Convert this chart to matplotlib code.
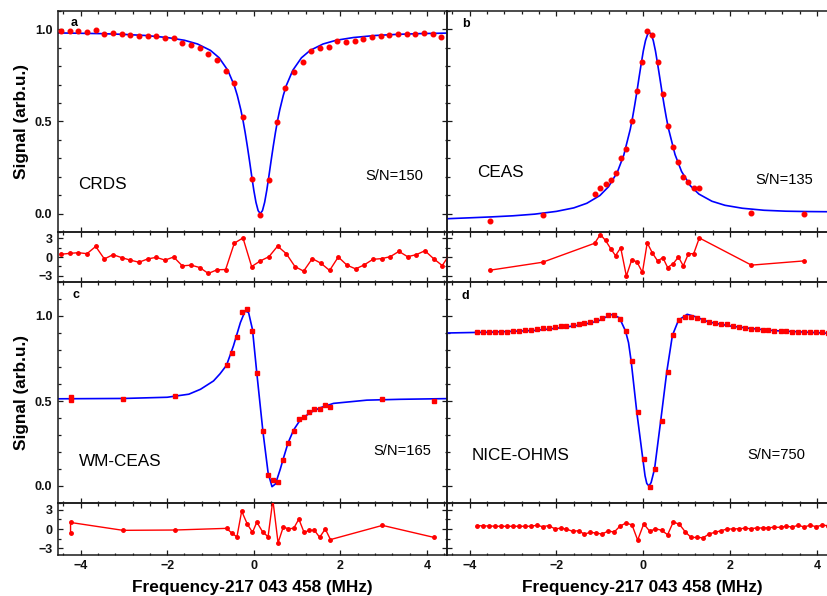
import matplotlib
matplotlib.use('Agg')
import matplotlib.pyplot as plt
from matplotlib.ticker import MultipleLocator

plt.rcParams['font.family'] = ['Liberation Sans', 'DejaVu Sans']
plt.rcParams['font.weight'] = 'bold'
plt.rcParams['axes.labelweight'] = 'bold'

# ---------------- Panel a: CRDS ----------------
a_x = [-4.44, -4.25, -4.05, -3.85, -3.65, -3.45, -3.25, -3.05, -2.85, -2.65, -2.45, -2.25, -2.05,
       -1.85, -1.65, -1.45, -1.25, -1.05, -0.85, -0.65, -0.45, -0.25, -0.05, 0.15, 0.35, 0.53, 0.73,
       0.93, 1.13, 1.33, 1.53, 1.73, 1.93, 2.13, 2.33, 2.53, 2.73, 2.93, 3.13, 3.33, 3.53, 3.73, 3.93,
       4.13, 4.33]
a_y = [0.99, 0.99, 0.99, 0.987, 0.998, 0.977, 0.982, 0.973, 0.967, 0.962, 0.966, 0.964, 0.953,
       0.953, 0.928, 0.918, 0.898, 0.864, 0.832, 0.772, 0.708, 0.527, 0.188, -0.009, 0.185, 0.498, 0.68,
       0.77, 0.824, 0.882, 0.898, 0.907, 0.938, 0.933, 0.937, 0.947, 0.958, 0.962, 0.969, 0.977, 0.973,
       0.974, 0.982, 0.973, 0.96]
a_fit_x = [-4.52, -4.0, -3.5, -3.0, -2.5, -2.0, -1.6, -1.3, -1.0, -0.8, -0.6, -0.45, -0.38, -0.3,
           -0.25, -0.2, -0.15, -0.1, -0.05, 0.0, 0.05, 0.1, 0.15, 0.2, 0.25, 0.3, 0.35, 0.4, 0.45, 0.5,
           0.55, 0.6, 0.68, 0.75, 0.9, 1.1, 1.3, 1.6, 1.9, 2.3, 2.8, 3.3, 3.8, 4.46]
a_fit_y = [0.981, 0.979, 0.977, 0.973, 0.967, 0.956, 0.941, 0.921, 0.886, 0.846, 0.778, 0.695, 0.641,
           0.564, 0.507, 0.441, 0.367, 0.288, 0.206, 0.127, 0.061, 0.016, 0.0, 0.016, 0.061, 0.127,
           0.206, 0.288, 0.367, 0.441, 0.507, 0.564, 0.641, 0.695, 0.778, 0.846, 0.886, 0.921, 0.941,
           0.956, 0.967, 0.973, 0.977, 0.980]
ar_x = [-4.46, -4.25, -4.05, -3.85, -3.65, -3.45, -3.25, -3.05, -2.85, -2.65, -2.45, -2.25, -2.05,
        -1.85, -1.65, -1.45, -1.25, -1.05, -0.85, -0.65, -0.45, -0.25, -0.05, 0.15, 0.35, 0.55, 0.75,
        0.95, 1.15, 1.35, 1.55, 1.75, 1.95, 2.15, 2.35, 2.55, 2.75, 2.95, 3.15, 3.35, 3.55, 3.75, 3.95,
        4.15, 4.35, 4.5]
ar_y = [0.43, 0.58, 0.69, 0.53, 1.69, -0.31, 0.37, -0.1, -0.5, -0.84, -0.31, -0.05, -0.5, 0.0,
        -1.42, -1.3, -1.68, -2.63, -2.05, -2.0, 2.21, 3.05, -1.53, -0.63, 0.05, 1.74, 0.53, -1.53,
        -2.26, -0.26, -1.0, -2.15, 0.0, -1.3, -1.9, -1.26, -0.37, -0.26, 0.05, 0.9, 0.05, 0.37, 1.0,
        -0.26, -1.37, 0.2]

# ---------------- Panel b: CEAS ----------------
b_x = [-3.52, -2.32, -1.12, -0.99, -0.87, -0.75, -0.64, -0.52, -0.39, -0.27, -0.15, -0.02, 0.09,
       0.21, 0.33, 0.45, 0.56, 0.69, 0.81, 0.92, 1.04, 1.16, 1.29, 2.49, 3.69]
b_y = [-0.038, -0.009, 0.107, 0.14, 0.158, 0.183, 0.219, 0.303, 0.349, 0.502, 0.665, 0.822, 0.991,
       0.969, 0.822, 0.65, 0.477, 0.36, 0.281, 0.201, 0.174, 0.14, 0.138, 0.005, -0.004]
br_y = [-2.1, -0.84, 2.2, 3.6, 2.65, 1.33, 0.22, 1.48, -3.05, -0.52, -0.73, -2.47, 2.27, 0.63,
        -0.63, -0.1, -1.68, -1.05, 0.0, -1.42, 0.53, 0.53, 3.05, -1.3, -0.63]
b_fit_x = [-4.53, -4.0, -3.5, -3.0, -2.5, -2.0, -1.6, -1.3, -1.0, -0.8, -0.6, -0.45, -0.3, -0.25,
           -0.2, -0.15, -0.1, -0.05, 0.0, 0.05, 0.1, 0.14, 0.18, 0.23, 0.28, 0.33, 0.38, 0.43, 0.48,
           0.53, 0.58, 0.73, 0.88, 1.08, 1.28, 1.58, 1.88, 2.28, 2.78, 3.28, 3.78, 4.28]
b_fit_y = [-0.028, -0.023, -0.018, -0.012, -0.003, 0.012, 0.031, 0.056, 0.098, 0.146, 0.224, 0.317,
           0.458, 0.518, 0.586, 0.658, 0.736, 0.811, 0.883, 0.939, 0.974, 0.983, 0.975, 0.939, 0.883,
           0.812, 0.737, 0.661, 0.588, 0.521, 0.461, 0.321, 0.229, 0.152, 0.106, 0.067, 0.045, 0.029,
           0.018, 0.013, 0.011, 0.010]

# ---------------- Panel c: WM-CEAS ----------------
c_x = [-4.23, -4.23, -3.02, -1.82, -0.63, -0.51, -0.39, -0.28, -0.15, -0.03, 0.07, 0.21, 0.33, 0.44,
       0.56, 0.68, 0.79, 0.92, 1.04, 1.16, 1.28, 1.4, 1.52, 1.65, 1.77, 2.97, 4.15]
c_y = [0.505, 0.525, 0.514, 0.528, 0.71, 0.78, 0.876, 1.024, 1.039, 0.914, 0.663, 0.322, 0.065,
       0.037, 0.024, 0.155, 0.253, 0.325, 0.394, 0.407, 0.435, 0.453, 0.455, 0.476, 0.466, 0.512,
       0.498]
cr_y = [-0.63, 1.03, -0.21, -0.16, 0.1, -0.63, -1.25, 2.81, 0.78, -0.53, 1.09, -0.53, -1.2, 4.6,
        -2.19, 0.31, 0.05, 0.1, 1.56, -0.53, -0.21, -0.21, -1.31, 0.0, -1.67, 0.57, -1.31]
c_fit_x = [-4.51, -3.0, -2.0, -1.5, -1.23, -0.93, -0.78, -0.63, -0.47, -0.31, -0.2, -0.12, -0.03,
           0.07, 0.21, 0.33, 0.42, 0.5, 0.61, 0.68, 0.79, 0.92, 1.07, 1.3, 1.53, 1.84, 2.61, 3.38, 4.46]
c_fit_y = [0.513, 0.515, 0.522, 0.54, 0.569, 0.618, 0.66, 0.71, 0.824, 0.961, 1.03, 1.02, 0.92,
           0.663, 0.322, 0.078, -0.004, 0.012, 0.098, 0.16, 0.253, 0.33, 0.388, 0.431, 0.46, 0.486,
           0.505, 0.51, 0.514]

# ---------------- Panel d: NICE-OHMS ----------------
d_x = [-3.82, -3.68, -3.55, -3.41, -3.27, -3.14, -3.00, -2.86, -2.73, -2.59, -2.45, -2.32, -2.18,
       -2.04, -1.90, -1.77, -1.63, -1.49, -1.36, -1.22, -1.08, -0.95, -0.81, -0.67, -0.54, -0.40,
       -0.26, -0.13, 0.01, 0.15, 0.28, 0.42, 0.56, 0.69, 0.83, 0.97, 1.10, 1.24, 1.38, 1.52, 1.65,
       1.79, 1.93, 2.06, 2.20, 2.34, 2.47, 2.61, 2.75, 2.88, 3.02, 3.16, 3.29, 3.43, 3.57, 3.70,
       3.84, 3.98, 4.11, 4.25]
d_y = [0.904, 0.904, 0.906, 0.908, 0.908, 0.908, 0.912, 0.914, 0.916, 0.920, 0.924, 0.928, 0.930,
       0.933, 0.939, 0.943, 0.947, 0.953, 0.959, 0.967, 0.979, 0.988, 1.004, 1.004, 0.984, 0.912,
       0.735, 0.435, 0.157, -0.004, 0.102, 0.382, 0.671, 0.886, 0.975, 0.996, 0.996, 0.986, 0.976,
       0.967, 0.961, 0.955, 0.951, 0.941, 0.935, 0.930, 0.926, 0.922, 0.920, 0.918, 0.914, 0.914,
       0.910, 0.908, 0.908, 0.906, 0.904, 0.904, 0.904, 0.902]
dr_y = [0.53, 0.48, 0.48, 0.43, 0.43, 0.43, 0.43, 0.43, 0.43, 0.43, 0.59, 0.37, 0.53, 0.05, 0.11,
        0.0, -0.37, -0.27, -0.8, -0.53, -0.64, -0.8, -0.32, -0.48, 0.43, 0.95, 0.64, -1.75, 0.8,
        -0.37, 0.05, -0.21, -0.9, 1.11, 0.75, -0.48, -1.33, -1.33, -1.38, -0.75, -0.53, -0.27, 0.0,
        0.0, 0.05, 0.11, 0.05, 0.16, 0.16, 0.21, 0.27, 0.27, 0.43, 0.32, 0.59, 0.32, 0.59, 0.37,
        0.59, 0.53]
d_fit_x = [-4.53, -3.5, -2.5, -2.0, -1.5, -1.2, -1.0, -0.85, -0.76, -0.61, -0.55, -0.41, -0.34,
           -0.28, -0.15, -0.01, 0.04, 0.08, 0.13, 0.18, 0.26, 0.40, 0.54, 0.67, 0.81, 1.01, 1.2,
           1.5, 2.0, 2.5, 3.0, 3.5, 4.3]
d_fit_y = [0.900, 0.905, 0.915, 0.928, 0.945, 0.96, 0.975, 0.995, 1.01, 0.997, 0.989, 0.912, 0.843,
           0.735, 0.435, 0.157, 0.06, 0.015, 0.0, 0.02, 0.102, 0.382, 0.671, 0.886, 0.975, 1.01,
           0.996, 0.965, 0.941, 0.926, 0.914, 0.908, 0.898]

x_ticks = [-4, -2, 0, 2, 4]
sig_ticks = [0.0, 0.5, 1.0]
res_ticks = [-3, 0, 3]

panel_letters = ['a', 'b', 'c', 'd']
methods = ['CRDS', 'CEAS', 'WM-CEAS', 'NICE-OHMS']
snr_labels = ['S/N=150', 'S/N=135', 'S/N=165', 'S/N=750']

# ---------------- figure ----------------
W, H = 827, 596
fig = plt.figure(figsize=(W / 100, H / 100), dpi=100)


def ax_at(x0, y0, x1, y1):
    return fig.add_axes([x0 / W, 1 - y1 / H, (x1 - x0) / W, (y1 - y0) / H])


RED = '#ff0000'
BLUE = '#0000ff'
SPINE = '#1a1a1a'
XLIM = (-4.52, 4.46)


def style(ax, ylim, ymaj, ymin, show_x, show_y):
    ax.set_xlim(*XLIM)
    ax.set_ylim(*ylim)
    ax.set_xticks(x_ticks)
    ax.xaxis.set_minor_locator(MultipleLocator(0.4))
    ax.set_yticks(ymaj)
    ax.yaxis.set_minor_locator(MultipleLocator(ymin))
    for s in ax.spines.values():
        s.set_linewidth(1.1)
        s.set_color(SPINE)
    ax.tick_params(which='both', direction='in', top=True, right=True, color=SPINE,
                   width=0.9, labelsize=9, labelcolor='#111111')
    ax.tick_params(which='major', length=3.3)
    ax.tick_params(which='minor', length=1.8)
    ax.tick_params(axis='x', pad=3.3, labelbottom=show_x)
    ax.tick_params(axis='y', pad=4.0, labelleft=show_y)
    ax.set_facecolor('none')


cols = [(58, 447), (447, 837)]
rows = [((11, 232), (232, 282), (-0.1, 1.1), (-4.0, 4.0)),
        ((282, 503), (503, 555), (-0.1, 1.2), (-4.1, 4.1))]

main_data = [(a_x, a_y, a_fit_x, a_fit_y, 'o'),
             (b_x, b_y, b_fit_x, b_fit_y, 'o'),
             (c_x, c_y, c_fit_x, c_fit_y, 's'),
             (d_x, d_y, d_fit_x, d_fit_y, 's')]
res_data = [(ar_x, ar_y), (b_x, br_y), (c_x, cr_y), (d_x, dr_y)]

letter_pos = [(0.041, 0.946), (0.049, 0.941), (0.046, 0.941), (0.046, 0.937)]
method_pos = [(0.051, 0.217), (0.077, 0.271), (0.054, 0.186), (0.064, 0.217)]
snr_pos = [(0.789, 0.253), (0.790, 0.235), (0.810, 0.235), (0.769, 0.217)]

for r, (mrow, rrow, mylim, rylim) in enumerate(rows):
    for c, (x0, x1) in enumerate(cols):
        i = r * 2 + c
        ax = ax_at(x0, mrow[0], x1, mrow[1])
        rax = ax_at(x0, rrow[0], x1, rrow[1])
        px, py, fx, fy, mk = main_data[i]
        ax.plot(fx, fy, color=BLUE, lw=1.2, zorder=2)
        ax.plot(px, py, linestyle='none', marker=mk, ms=3.3 if mk == 'o' else 3.2,
                color=RED, mec=RED, zorder=3)
        style(ax, mylim, sig_ticks, 0.1, False, c == 0)
        rx, ry = res_data[i]
        rax.plot(rx, ry, color=RED, lw=1.0, marker='o', ms=2.5, zorder=3)
        style(rax, rylim, res_ticks, 1.5, r == 1, c == 0)

        ax.text(*letter_pos[i], panel_letters[i], transform=ax.transAxes, fontsize=9,
                fontweight='bold', ha='center', va='center')
        ax.text(*method_pos[i], methods[i], transform=ax.transAxes, fontsize=12.3,
                fontweight='normal', ha='left', va='center')
        ax.text(*snr_pos[i], snr_labels[i], transform=ax.transAxes, fontsize=10.6,
                fontweight='normal', ha='left', va='center')
        if c == 0:
            ax.set_ylabel('Signal (arb.u.)', fontsize=12.4, va='center')
            ax.yaxis.set_label_coords(-0.094, 0.5)
        if r == 1:
            rax.set_xlabel('Frequency-217 043 458 (MHz)', fontsize=12.4, va='center')
            rax.xaxis.set_label_coords(0.5, -0.63)

fig.savefig('out.png', dpi=100)
